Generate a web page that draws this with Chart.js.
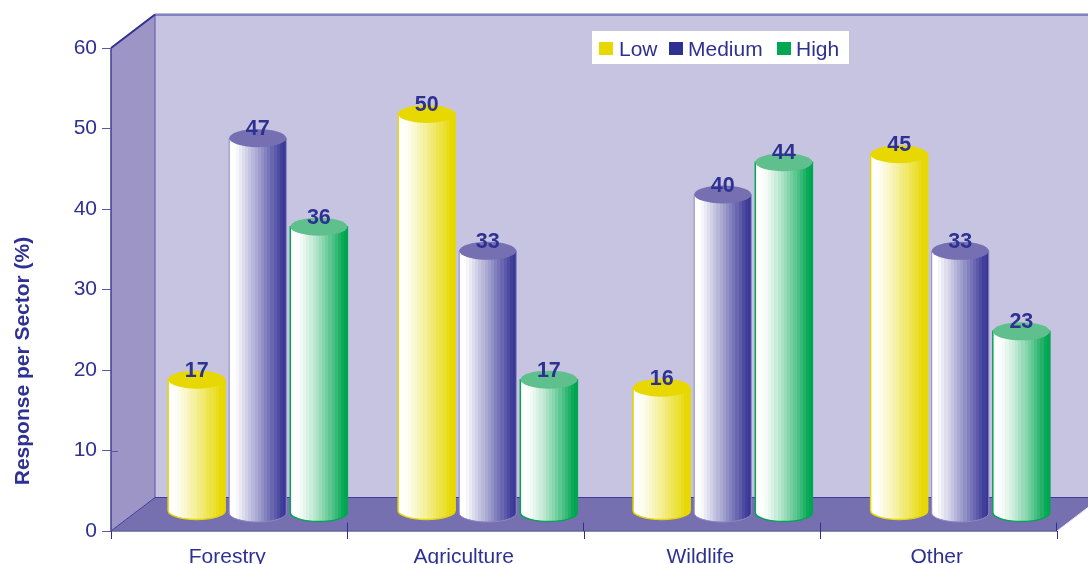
<!DOCTYPE html>
<html>
<head>
<meta charset="utf-8">
<title>Response per Sector</title>
<script src="https://cdn.jsdelivr.net/npm/chart.js@4"></script>
<style>
  html, body { margin: 0; padding: 0; background: #fff; overflow: hidden; }
  canvas { display: block; }
</style>
</head>
<body>
<canvas id="chart" width="1088" height="564"></canvas>
<script>
const categories = ['Forestry', 'Agriculture', 'Wildlife', 'Other'];
const seriesNames = ['Low', 'Medium', 'High'];
const lowValues = [17, 50, 16, 45];
const mediumValues = [47, 33, 40, 33];
const highValues = [36, 17, 44, 23];
const yAxisTitle = 'Response per Sector (%)';

const NAVY = '#2e3192';
const FONT = '"Liberation Sans", Arial, sans-serif';
const seriesColors = ['#e6d800', '#2e3192', '#00a651'];
const capColors = ['#e6d800', '#7670b3', '#60c08d'];
const edgeColors = ['#e6d800', '#8d88c0', '#00a651'];
const shadeEnds = ['#e6d800', '#3a3897', '#00a651'];
const shadeGamma = [1.15, 1.05, 1.35];
const DEPTH_X = 44, DEPTH_Y = 33.5;   // oblique offset of the back wall
const TOP_RISE = 14.5;                // cylinder tops sit mid-depth in the box
const baseRise = [20.5, 18, 18.5];    // floor contact of each series, above the front edge
const groupShift = [28.5, 22, 20.5, 21.5];
const CAP_RY = 9;

function mix(hex, t) {
  const n = parseInt(hex.slice(1), 16);
  const c = [n >> 16, (n >> 8) & 255, n & 255].map(v => Math.round(255 + (v - 255) * t));
  return `rgb(${c[0]},${c[1]},${c[2]})`;
}

// Banded left-to-right shading of a cylinder side
function bandedFill(ctx, left, right, ds) {
  const g = ctx.createLinearGradient(left, 0, right, 0);
  const bands = 18;
  for (let i = 0; i < bands; i++) {
    const t = Math.max(0, Math.min(1, (i / (bands - 1) - 0.07) / 0.9));
    const c = mix(shadeEnds[ds], Math.pow(t, shadeGamma[ds]));
    g.addColorStop(i / bands, c);
    g.addColorStop((i + 1) / bands, c);
  }
  return g;
}

function drawCylinder(ctx, cx, rx, topY, baseY, ds) {
  const left = cx - rx, right = cx + rx;
  ctx.beginPath();
  ctx.moveTo(left, topY);
  ctx.lineTo(left, baseY);
  ctx.ellipse(cx, baseY, rx, CAP_RY, 0, Math.PI, 0, true);
  ctx.lineTo(right, topY);
  ctx.closePath();
  ctx.fillStyle = bandedFill(ctx, left, right, ds);
  ctx.fill();
  ctx.strokeStyle = edgeColors[ds];
  ctx.lineWidth = ds === 1 ? 1 : 1.5;
  ctx.stroke();
  ctx.beginPath();
  ctx.ellipse(cx, topY, rx, CAP_RY, 0, 0, Math.PI * 2);
  ctx.fillStyle = capColors[ds];
  ctx.fill();
}

// Walls and floor of the box, painted behind everything else
const boxPlugin = {
  id: 'box',
  beforeDraw(chart) {
    const { ctx, chartArea: a } = chart;
    const dx = DEPTH_X, dy = DEPTH_Y;
    ctx.save();
    ctx.fillStyle = '#c7c4e2';
    ctx.fillRect(a.left + dx, a.top - dy, a.right - a.left + dx, a.bottom - a.top);
    ctx.fillStyle = '#9c95c6';
    ctx.beginPath();
    ctx.moveTo(a.left, a.top); ctx.lineTo(a.left + dx, a.top - dy);
    ctx.lineTo(a.left + dx, a.bottom - dy); ctx.lineTo(a.left, a.bottom);
    ctx.closePath(); ctx.fill();
    ctx.fillStyle = '#7670b1';
    ctx.beginPath();
    ctx.moveTo(a.left, a.bottom); ctx.lineTo(a.left + dx, a.bottom - dy);
    ctx.lineTo(a.right + dx, a.bottom - dy); ctx.lineTo(a.right, a.bottom);
    ctx.closePath(); ctx.fill();

    const line = (x1, y1, x2, y2, color, w) => {
      ctx.beginPath(); ctx.moveTo(x1, y1); ctx.lineTo(x2, y2);
      ctx.strokeStyle = color; ctx.lineWidth = w; ctx.stroke();
    };
    line(a.left + dx, a.top - dy - 0.8, a.right + dx, a.top - dy - 0.8, '#b9b5da', 1.5);
    line(a.left + dx, a.top - dy + 0.5, a.right + dx, a.top - dy + 0.5, '#3f3c99', 1);
    line(a.left + dx, a.top - dy, a.left + dx, a.bottom - dy, '#5a55a6', 1);
    line(a.left + dx, a.bottom - dy, a.right + dx, a.bottom - dy, '#3f3c99', 1);
    line(a.left, a.top, a.left + dx, a.top - dy, NAVY, 2);
    line(a.left, a.top, a.left, a.bottom, '#3f3c99', 1.5);
    line(a.left, a.bottom, a.left + dx, a.bottom - dy, '#3f3c99', 1);
    line(a.left, a.bottom, a.right, a.bottom, '#66649a', 1.5);
    line(a.right, a.bottom, a.right + dx, a.bottom - dy, '#e4e2f2', 1);
    // short stub carried over the side wall at the 10 mark
    const y10 = Math.round(chart.scales.y.getPixelForValue(10)) + 0.5;
    line(a.left, y10, a.left + 7, y10, '#5a55a6', 1);
    ctx.restore();
  },
  afterDatasetsDraw(chart) {
    const { ctx, chartArea: a } = chart;
    ctx.save();
    // category divider stubs rising from the front edge onto the floor
    ctx.strokeStyle = NAVY;
    ctx.lineWidth = 1;
    for (let i = 1; i <= categories.length; i++) {
      const x = Math.round(a.left + (a.right - a.left) * i / categories.length) - 0.5;
      ctx.beginPath(); ctx.moveTo(x, a.bottom - 8.5); ctx.lineTo(x, a.bottom); ctx.stroke();
    }
    // cylinders, taking position and height from the bar elements
    chart.data.datasets.forEach((set, ds) => {
      chart.getDatasetMeta(ds).data.forEach((bar, i) => {
        const cx = bar.x + groupShift[i];
        const topY = bar.y - TOP_RISE;
        const baseY = chart.scales.y.getPixelForValue(0) - baseRise[ds];
        drawCylinder(ctx, cx, bar.width / 2, topY, baseY, ds);
      });
    });
    // value labels on top of each cap
    ctx.fillStyle = NAVY;
    ctx.font = 'bold 21.5px ' + FONT;
    ctx.textAlign = 'center';
    ctx.textBaseline = 'alphabetic';
    chart.data.datasets.forEach((set, ds) => {
      chart.getDatasetMeta(ds).data.forEach((bar, i) => {
        ctx.fillText(set.data[i], bar.x + groupShift[i], bar.y - TOP_RISE - 3);
      });
    });
    ctx.restore();
  },
  afterDraw(chart) {
    const { ctx } = chart;
    ctx.save();
    // legend panel
    ctx.fillStyle = '#fff';
    ctx.fillRect(592, 31, 257, 33);
    const swatchX = [599, 669, 777];
    const textX = [619, 688, 796];
    ctx.font = '21px ' + FONT;
    ctx.textAlign = 'left';
    ctx.textBaseline = 'alphabetic';
    seriesNames.forEach((name, i) => {
      ctx.fillStyle = seriesColors[i];
      ctx.fillRect(swatchX[i], 42, 14, 13);
      ctx.fillStyle = NAVY;
      ctx.fillText(name, textX[i], 55.5);
    });
    // vertical axis title
    ctx.translate(29, 361);
    ctx.rotate(-Math.PI / 2);
    ctx.textAlign = 'center';
    ctx.font = 'bold 21px ' + FONT;
    ctx.fillText(yAxisTitle, 0, 0);
    ctx.restore();
  }
};

const makeSet = (label, data) => ({
  label, data,
  backgroundColor: 'transparent',
  borderWidth: 0,
  categoryPercentage: 0.775,
  barPercentage: 0.934
});

new Chart(document.getElementById('chart'), {
  type: 'bar',
  data: {
    labels: categories,
    datasets: [
      makeSet(seriesNames[0], lowValues),
      makeSet(seriesNames[1], mediumValues),
      makeSet(seriesNames[2], highValues)
    ]
  },
  plugins: [boxPlugin],
  options: {
    responsive: false,
    animation: false,
    devicePixelRatio: 1,
    layout: { padding: { top: 48, right: 31, left: 0, bottom: 0 } },
    plugins: { legend: { display: false }, tooltip: { enabled: false } },
    scales: {
      x: {
        afterFit(s) { s.height = 33; },
        grid: { drawOnChartArea: false, tickLength: 8, tickColor: NAVY, tickWidth: 1 },
        border: { display: false },
        ticks: { color: NAVY, font: { family: FONT, size: 21 }, padding: 6, labelOffset: -2, maxRotation: 0 }
      },
      y: {
        min: 0, max: 60,
        afterFit(s) { s.width = 111; },
        grid: { drawOnChartArea: false, tickLength: 9, tickColor: '#5a55a6', tickWidth: 1 },
        border: { display: false },
        ticks: { stepSize: 10, color: NAVY, font: { family: FONT, size: 21 }, padding: 5 }
      }
    }
  }
});
</script>
</body>
</html>
